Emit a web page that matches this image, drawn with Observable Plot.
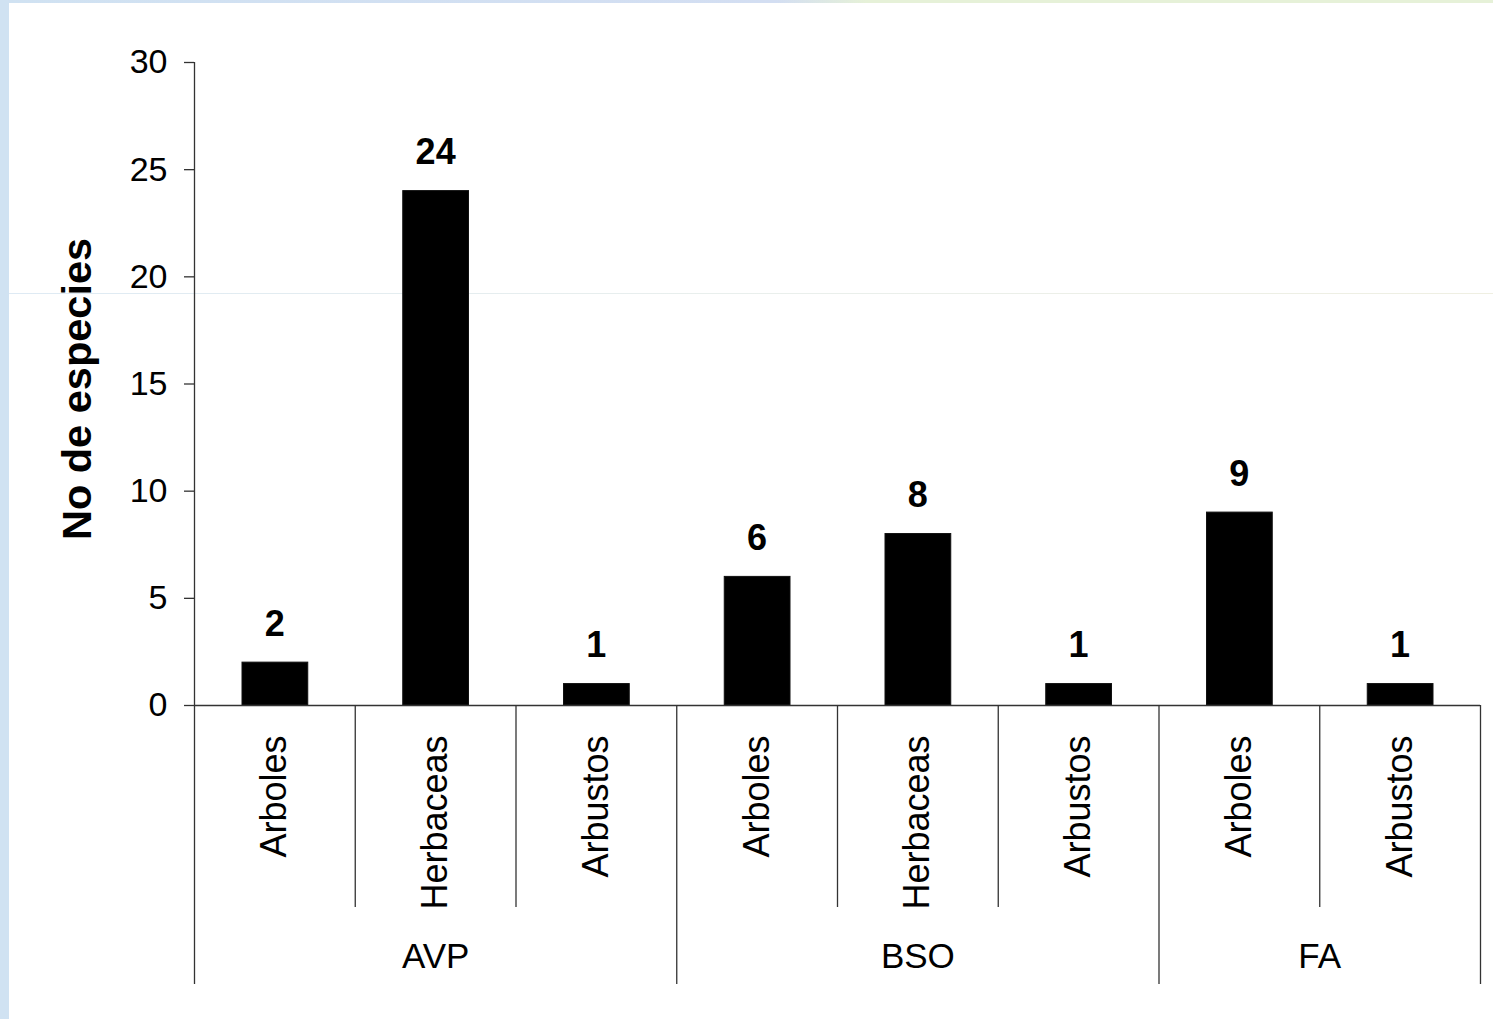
<!DOCTYPE html>
<html>
<head>
<meta charset="utf-8">
<script src="https://cdn.jsdelivr.net/npm/d3@7"></script>
<script src="https://cdn.jsdelivr.net/npm/@observablehq/plot@0.6"></script>
<style>
  html, body { margin: 0; padding: 0; background: #fff; }
  #page { position: relative; width: 1493px; height: 1019px; overflow: hidden; background: #fff; }
  #chart { position: absolute; left: 0; top: 0; }
  .edge-left { position: absolute; left: 0; top: 0; width: 9px; height: 1019px; background: #d0e2f2; }
  .edge-top { position: absolute; left: 0; top: 0; width: 1493px; height: 3px;
    background: linear-gradient(to right, #d0e2f2 0%, #d3def2 52%, #e6f1d8 58%, #e6f1d8 100%); }
  .faint { position: absolute; left: 9px; top: 293px; width: 1484px; height: 1px;
    background: linear-gradient(to right, #d6e5f1 0%, #e4ebe8 50%, #ebebdb 100%); opacity: 0.8; }
</style>
</head>
<body>
<div id="page">
  <div class="edge-left"></div>
  <div class="edge-top"></div>
  <div class="faint"></div>
  <div id="chart"></div>
</div>
<script>
// Species counts by growth form within each vegetation unit
const groups = ["AVP", "AVP", "AVP", "BSO", "BSO", "BSO", "FA", "FA"];
const types = ["Arboles", "Herbaceas", "Arbustos", "Arboles", "Herbaceas", "Arbustos", "Arboles", "Arbustos"];
const values = [2, 24, 1, 6, 8, 1, 9, 1];
const yTicks = [0, 5, 10, 15, 20, 25, 30];
const yTitle = "No de especies";

const rows = values.map((v, i) => ({i, group: groups[i], type: types[i], value: v}));

// Slot boundaries: inner ones split categories, outer ones split groups
const groupEdges = [0];
for (let i = 1; i < groups.length; i++) if (groups[i] !== groups[i - 1]) groupEdges.push(i);
groupEdges.push(groups.length);
const innerEdges = d3.range(1, groups.length).filter(i => !groupEdges.includes(i));
const groupCenters = new Map();
for (let k = 0; k < groupEdges.length - 1; k++) {
  groupCenters.set((groupEdges[k] + groupEdges[k + 1]) / 2, groups[groupEdges[k]]);
}

const font = "'Liberation Sans', Arial, Helvetica, sans-serif";
const axisColor = "#333";

const chart = Plot.plot({
  width: 1493,
  height: 1019,
  marginLeft: 194,
  marginRight: 13,
  marginTop: 62,
  marginBottom: 314,
  style: {fontFamily: font, color: "#000", background: "transparent"},
  x: {type: "linear", domain: [0, rows.length], axis: null},
  y: {domain: [0, 30], axis: null},
  marks: [
    Plot.rectY(rows, {
      x1: d => d.i, x2: d => d.i + 1, y: "value",
      insetLeft: 48, insetRight: 47, fill: "#000", stroke: "#111", strokeWidth: 1
    }),
    Plot.ruleY([0], {stroke: axisColor, strokeWidth: 1.3}),
    Plot.axisY(yTicks, {
      tickSize: 10, tickPadding: 17, fontSize: 34, label: null,
      stroke: axisColor, strokeWidth: 1.3
    }),
    Plot.ruleX([0], {stroke: axisColor, strokeWidth: 1.3}),
    Plot.axisX(innerEdges, {
      tickSize: 202, tickFormat: () => "", stroke: axisColor, strokeWidth: 1.3, label: null
    }),
    Plot.axisX(groupEdges, {
      tickSize: 279, tickFormat: () => "", stroke: axisColor, strokeWidth: 1.3, label: null
    }),
    Plot.axisX(rows.map(d => d.i + 0.5), {
      tickSize: 0, tickPadding: 30, tickRotate: -90, fontSize: 36, label: null,
      tickFormat: x => types[Math.floor(x)]
    }),
    Plot.axisX([...groupCenters.keys()], {
      tickSize: 0, tickPadding: 238, fontSize: 35, label: null,
      tickFormat: x => groupCenters.get(x)
    }),
    Plot.text(rows, {
      x: d => d.i + 0.5, y: "value", text: d => String(d.value),
      lineAnchor: "bottom", dy: -27, fontSize: 36, fontWeight: "bold", fill: "#000"
    }),
    Plot.text([yTitle], {
      frameAnchor: "left", textAnchor: "middle", lineAnchor: "middle",
      rotate: -90, dx: -117, dy: 5, fontSize: 41.5, fontWeight: "bold", fill: "#000"
    })
  ]
});

document.getElementById("chart").appendChild(chart);
</script>
</body>
</html>
